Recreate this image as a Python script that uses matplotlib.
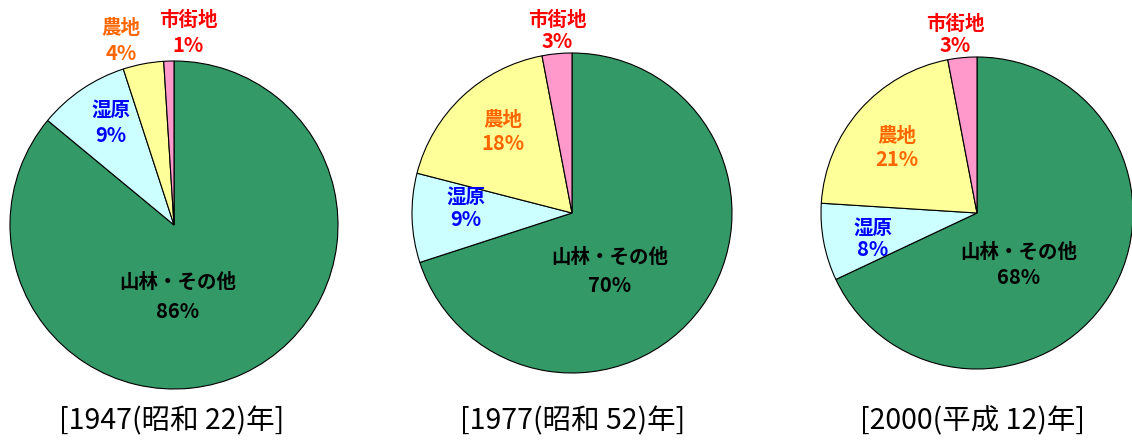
import matplotlib
matplotlib.use("Agg")
import matplotlib.pyplot as plt

plt.rcParams['font.family'] = ['Noto Sans CJK JP', 'DejaVu Sans']

categories = ["山林・その他", "湿原", "農地", "市街地"]
colors = ["#339966", "#CCFFFF", "#FFFF99", "#FF99CC"]
label_colors = ["#000000", "#0000FF", "#FF6600", "#FF0000"]

years = ["[1947(昭和 22)年]", "[1977(昭和 52)年]", "[2000(平成 12)年]"]
values_1947 = [86, 9, 4, 1]
values_1977 = [70, 9, 18, 3]
values_2000 = [68, 8, 21, 3]
all_values = [values_1947, values_1977, values_2000]

W, H = 1132, 442
fig = plt.figure(figsize=(W / 100, H / 100), dpi=100)
ax = fig.add_axes([0, 0, 1, 1])

# layout (pixel coordinates, y measured from top)
centers = [(174, 225), (572, 213), (977, 213)]
radii = [164, 160, 156]
label_pos = [
    [(178, 282, 312), (111, 110, 136), (121, 29, 53), (188, 20, 46)],
    [(610, 257, 285), (466, 197, 219), (503, 121, 143), (557, 20, 42)],
    [(1019, 252, 278), (873, 228, 250), (897, 137, 160), (955, 24, 46)],
]
caption_pos = [(172, 421), (573, 421), (973, 421)]

for vals, (cx, cy), r, lp, cap, cp in zip(all_values, centers, radii, label_pos, years, caption_pos):
    ax.pie(vals, colors=colors, startangle=90, counterclock=False,
           center=(cx, H - cy), radius=r,
           wedgeprops=dict(edgecolor="black", linewidth=0.8))
    for name, v, col, (lx, ly1, ly2) in zip(categories, vals, label_colors, lp):
        ax.text(lx, H - ly1, name, color=col, fontsize=14, fontweight="bold",
                ha="center", va="center")
        ax.text(lx, H - ly2, f"{v}%", color=col, fontsize=14.5, fontweight="bold",
                ha="center", va="center")
    ax.text(cp[0], H - cp[1], cap, fontsize=20.5, ha="center", va="center", color="black")

ax.set_xlim(0, W)
ax.set_ylim(0, H)
ax.set_aspect("auto")
ax.axis("off")

fig.savefig("out.png", dpi=100, facecolor="white")
